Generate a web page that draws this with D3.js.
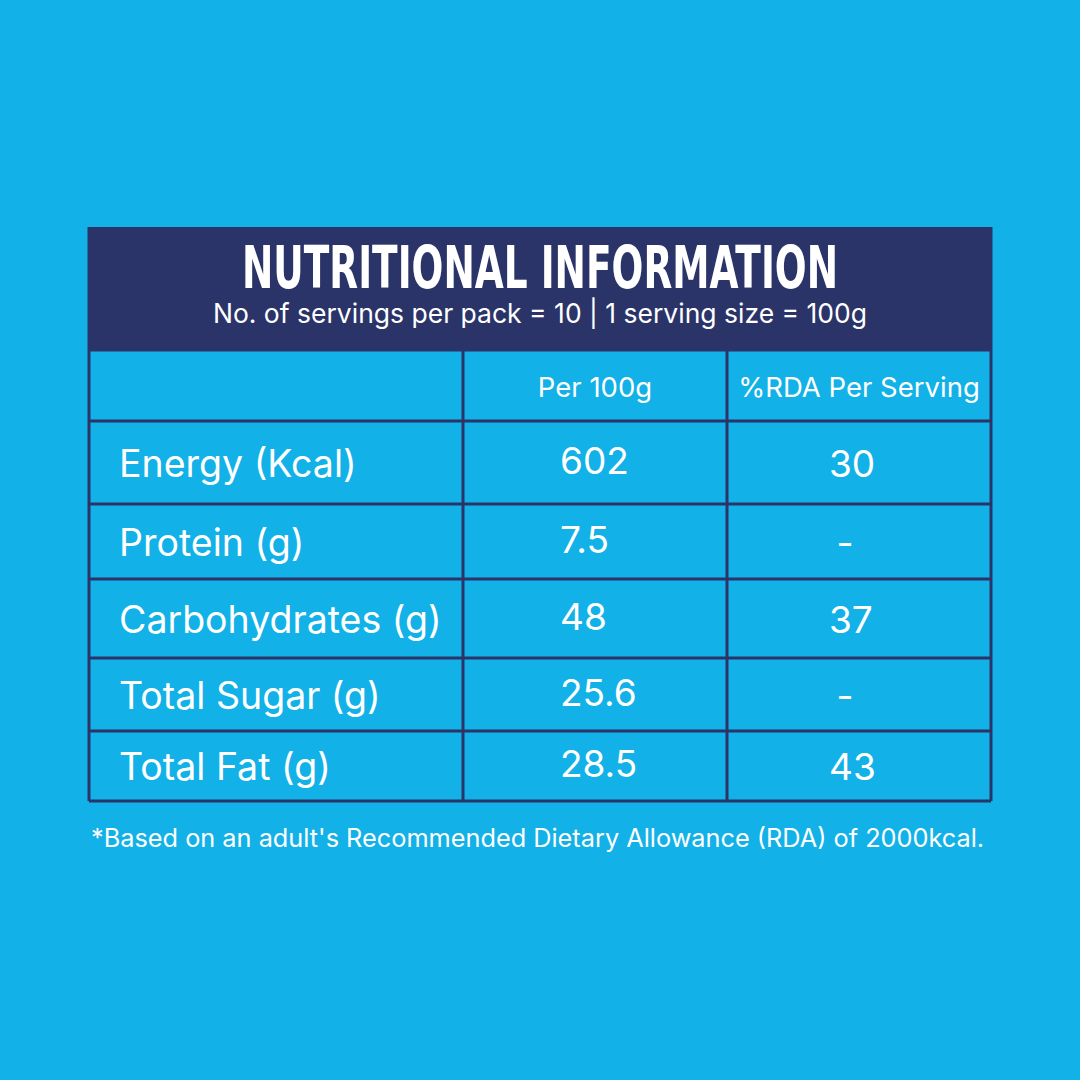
<!DOCTYPE html>
<html>
<head>
<meta charset="utf-8">
<script src="https://cdn.jsdelivr.net/npm/d3@7"></script>
<style>
  html, body { margin: 0; padding: 0; background: #12b1e7; }
  svg { display: block; }
</style>
</head>
<body>
<script>
// table content
var title = "NUTRITIONAL INFORMATION";
var subtitle = "No. of servings per pack = 10 | 1 serving size = 100g";
var columns = ["", "Per 100g", "%RDA Per Serving"];
var nutrients = ["Energy (Kcal)", "Protein (g)", "Carbohydrates (g)", "Total Sugar (g)", "Total Fat (g)"];
var per100g = ["602", "7.5", "48", "25.6", "28.5"];
var rdaPerServing = ["30", "-", "37", "-", "43"];
var footnote = "*Based on an adult's Recommended Dietary Allowance (RDA) of 2000kcal.";

var width = 1080, height = 1080;
var navy = "#2b3468", blue = "#12b1e7";
var bodyFont = "Inter, 'Noto Sans', sans-serif";

var svg = d3.select("body").append("svg")
  .attr("width", width)
  .attr("height", height);

svg.append("rect")
  .attr("width", width).attr("height", height)
  .attr("fill", blue);

// column edges and row edges
var x = d3.scaleLinear().domain([0, 1, 2, 3]).range([89, 463, 727, 991]);
var y = d3.scaleLinear().domain([-1, 0, 1, 2, 3, 4, 5]).range([350, 421, 504, 579, 658, 731, 801]);
var headTop = 227;

// title block
svg.append("rect")
  .attr("x", x(0)).attr("y", headTop)
  .attr("width", x(3) - x(0)).attr("height", y(-1) - headTop)
  .attr("fill", navy);

svg.append("text")
  .attr("x", (x(0) + x(3)) / 2).attr("y", 288)
  .attr("text-anchor", "middle")
  .attr("font-family", "'DejaVu Sans Condensed', 'DejaVu Sans', sans-serif")
  .attr("font-weight", "bold")
  .attr("font-size", 58)
  .attr("textLength", 596)
  .attr("lengthAdjust", "spacingAndGlyphs")
  .attr("fill", "#fff")
  .text(title);

svg.append("text")
  .attr("x", (x(0) + x(3)) / 2).attr("y", 323)
  .attr("text-anchor", "middle")
  .attr("font-family", bodyFont)
  .attr("font-size", 26.5)
  .attr("fill", "#fff")
  .text(subtitle);

// grid lines
var grid = svg.append("g")
  .attr("stroke", navy)
  .attr("stroke-width", 3)
  .attr("fill", "none");

grid.selectAll(".hline")
  .data(d3.range(-1, nutrients.length + 1))
  .enter().append("line")
  .attr("class", "hline")
  .attr("x1", x(0)).attr("x2", x(3))
  .attr("y1", function(d){ return y(d); })
  .attr("y2", function(d){ return y(d); });

grid.selectAll(".vline")
  .data(d3.range(0, 4))
  .enter().append("line")
  .attr("class", "vline")
  .attr("x1", function(d){ return x(d); })
  .attr("x2", function(d){ return x(d); })
  .attr("y1", function(d){ return (d == 0 || d == 3) ? headTop : y(-1); })
  .attr("y2", y(nutrients.length));

// column headers
svg.selectAll(".colhead")
  .data(columns)
  .enter().append("text")
  .attr("class", "colhead")
  .attr("x", function(d, i){ return (x(i) + x(i + 1)) / 2; })
  .attr("y", (y(-1) + y(0)) / 2 + 11)
  .attr("text-anchor", "middle")
  .attr("font-family", bodyFont)
  .attr("font-size", 27.5)
  .attr("fill", "#fff")
  .text(function(d){ return d; });

// rows
var rows = svg.selectAll(".row")
  .data(nutrients)
  .enter().append("g")
  .attr("class", "row");

rows.append("text")
  .attr("x", 119)
  .attr("y", function(d, i){ return (y(i) + y(i + 1)) / 2 + 14; })
  .attr("font-family", bodyFont)
  .attr("font-size", 37.5)
  .attr("fill", "#fff")
  .text(function(d){ return d; });

rows.append("text")
  .attr("x", 560)
  .attr("y", function(d, i){ return (y(i) + y(i + 1)) / 2 + 11; })
  .attr("font-family", bodyFont)
  .attr("font-size", 37)
  .attr("fill", "#fff")
  .text(function(d, i){ return per100g[i]; });

rows.append("text")
  .attr("x", function(d, i){ return rdaPerServing[i] == "-" ? 845 : 829; })
  .attr("text-anchor", function(d, i){ return rdaPerServing[i] == "-" ? "middle" : "start"; })
  .attr("y", function(d, i){ return (y(i) + y(i + 1)) / 2 + 14; })
  .attr("font-family", bodyFont)
  .attr("font-size", 37)
  .attr("fill", "#fff")
  .text(function(d, i){ return rdaPerServing[i]; });

// footnote
svg.append("text")
  .attr("x", 91).attr("y", 847)
  .attr("font-family", bodyFont)
  .attr("font-size", 25.3)
  .attr("fill", "#fff")
  .text(footnote);
</script>
</body>
</html>
